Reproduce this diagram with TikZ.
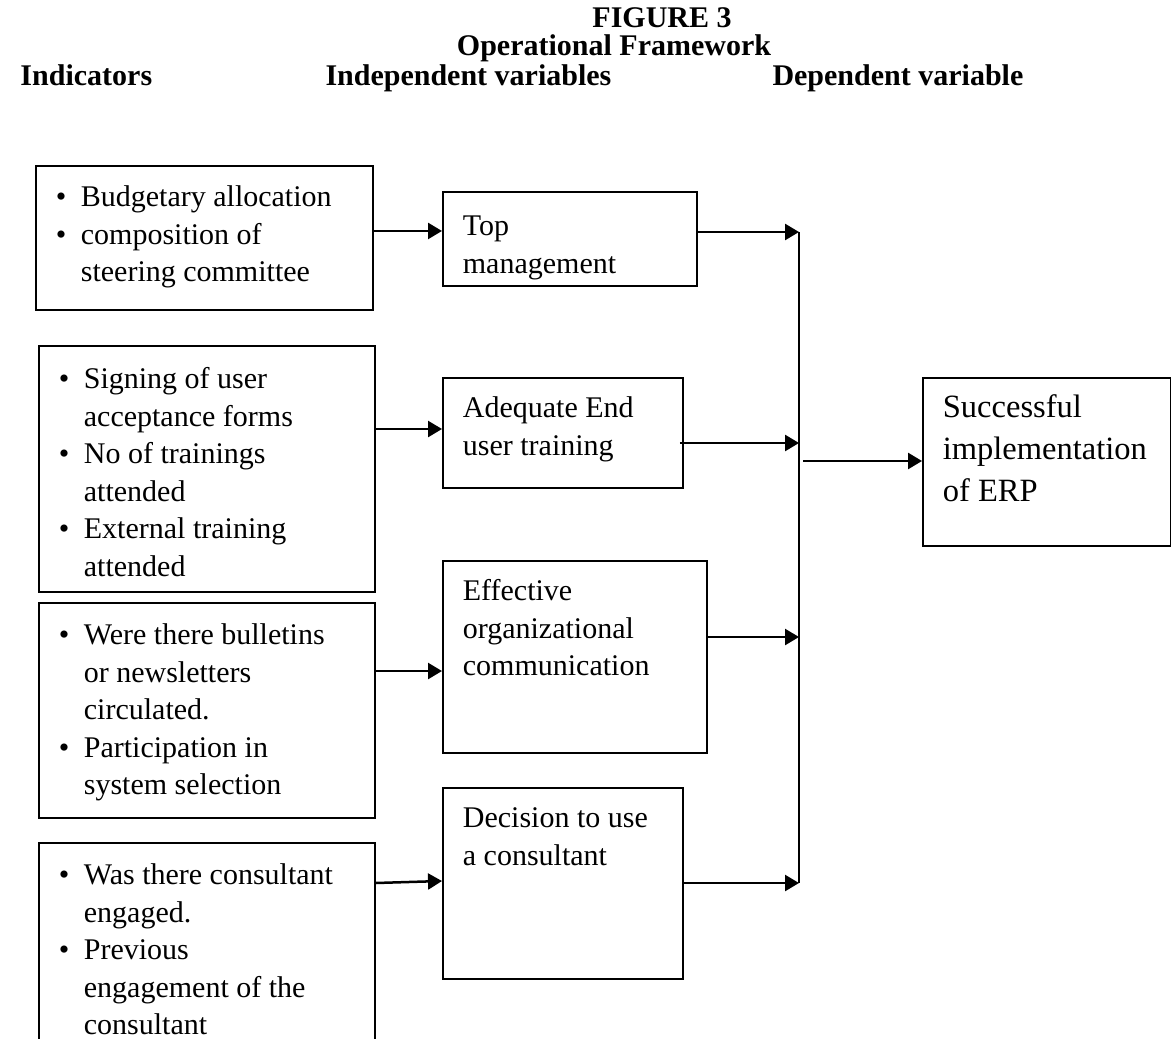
\documentclass[tikz,border=0pt]{standalone}
\usepackage{fontspec}
\setmainfont{Liberation Serif}
\usetikzlibrary{arrows.meta}

% box text: width, height, first baseline, lines
\newcommand{\boxbody}[4]{\parbox[t][#2][t]{#1}{\raggedright\leftskip=8pt\rule{0pt}{#3}#4}}
\newcommand{\itembul}{\makebox[10pt][l]{\textbullet}}
\newcommand{\itemgap}{\hspace*{10pt}}

\begin{document}
\begin{tikzpicture}[x=0.4pt, y=-0.4pt,
  box/.style={draw, line width=0.7pt, inner sep=0pt, anchor=north west, font=\fontsize{12}{15}\selectfont},
  head/.style={font=\fontsize{12}{15}\selectfont\bfseries, inner sep=0pt},
  arr/.style={-{Triangle[length=5.6pt,width=6.4pt]}, line width=1pt},
  bus/.style={line width=0.8pt}]
\useasboundingbox (0,0) rectangle (1171,1038);
\clip (0,0) rectangle (1171,1038);

% titles
\node[head, anchor=base] (fig) at (662,28) {FIGURE 3};
\node[head, anchor=base] (frame) at (614,56) {Operational Framework};
\node[head, anchor=base west] (hind) at (20,86) {Indicators};
\node[head, anchor=base west] (hindep) at (325,86) {Independent variables};
\node[head, anchor=base west] (hdep) at (772,86) {Dependent variable};

% indicators
\node[box] (i1) at (35,165) {\boxbody{134.8pt}{57.6pt}{16.4pt}{%
  \itembul Budgetary allocation\\ \itembul composition of\\ \itemgap steering committee}};
\node[box] (i2) at (38,345) {\boxbody{134.4pt}{98.4pt}{17.2pt}{%
  \itembul Signing of user\\ \itemgap acceptance forms\\ \itembul No of trainings\\ \itemgap attended\\
  \itembul External training\\ \itemgap attended}};
\node[box] (i3) at (38,602) {\boxbody{134.4pt}{86pt}{16.8pt}{%
  \itembul Were there bulletins\\ \itemgap or newsletters\\ \itemgap circulated.\\
  \itembul Participation in\\ \itemgap system selection}};
\node[box] (i4) at (38,842) {\boxbody{134.4pt}{88pt}{16.8pt}{%
  \itembul Was there consultant\\ \itemgap engaged.\\ \itembul Previous\\
  \itemgap engagement of the\\ \itemgap consultant}};

% independent variables
\node[box] (v1) at (442,191) {\boxbody{101.6pt}{37.6pt}{17.6pt}{Top\\ management}};
\node[box] (v2) at (442,377) {\boxbody{96pt}{44pt}{16pt}{Adequate End\\ user training}};
\node[box] (v3) at (442,560) {\boxbody{105.6pt}{76.8pt}{16pt}{Effective\\ organizational\\ communication}};
\node[box] (v4) at (442,787) {\boxbody{96pt}{76.4pt}{16pt}{Decision to use\\ a consultant}};

% dependent variable
\node[box, font=\fontsize{13}{16.8}\selectfont] (s) at (922,377)
  {\boxbody{99.2pt}{67.2pt}{16pt}{Successful\\ implementation\\ of ERP}};

% connectors
\coordinate (b1) at (799,232);
\coordinate (b2) at (799,443);
\coordinate (b3) at (799,637);
\coordinate (b4) at (799,883);
\coordinate (bs) at (803,461);
\draw[bus] (b1) -- (b4);

\draw[arr] (i1.east |- 0,231) -- (v1.west |- 0,231);
\draw[arr] (i2.east |- 0,429) -- (v2.west |- 0,429);
\draw[arr] (i3.east |- 0,671) -- (v3.west |- 0,671);
\draw[arr] (i4.east |- 0,883) -- (v4.west |- 0,881);

\draw[arr] (v1.east |- b1) -- (b1);
\draw[arr, shorten <=-1.6pt] (v2.east |- b2) -- (b2);
\draw[arr] (v3.east |- b3) -- (b3);
\draw[arr] (v4.east |- b4) -- (b4);
\draw[arr] (bs) -- (s.west |- bs);
\end{tikzpicture}
\end{document}
